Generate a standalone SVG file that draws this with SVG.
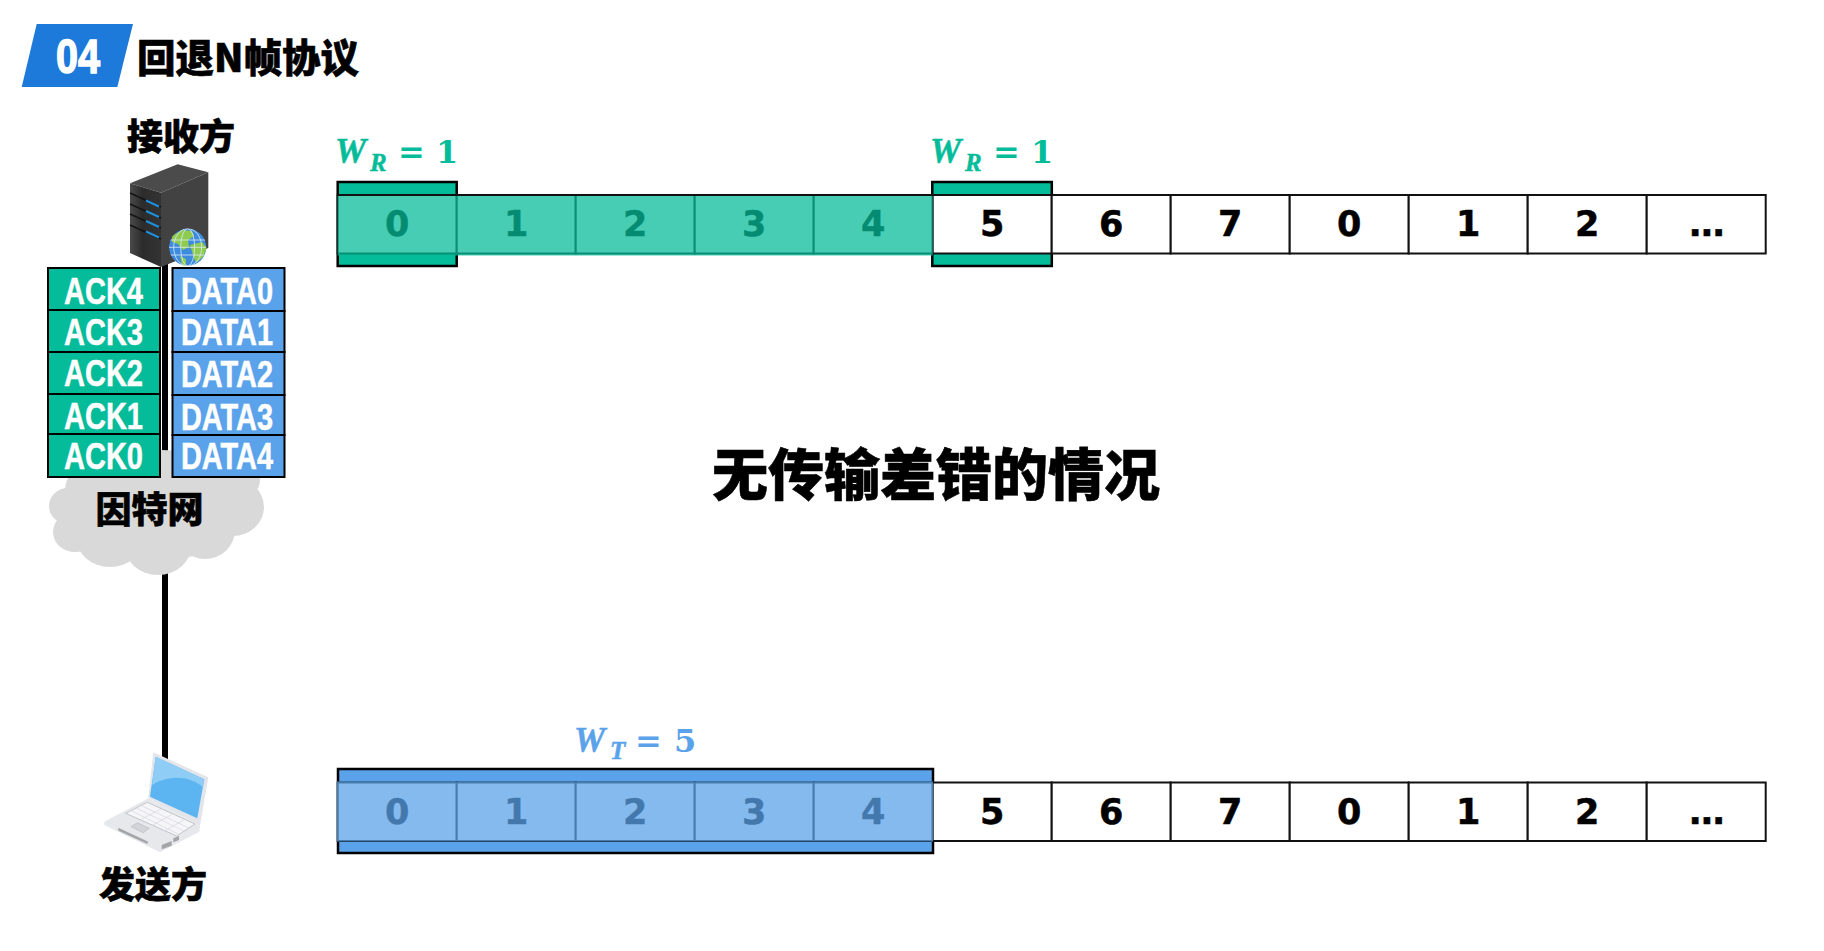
<svg xmlns="http://www.w3.org/2000/svg" width="1824" height="951" viewBox="0 0 1824 951">
<style>
text{font-family:"Liberation Sans","Noto Sans CJK SC",sans-serif}
.cjk{font-family:"Noto Sans CJK SC",sans-serif;font-weight:900;fill:#000;text-anchor:middle;stroke:#000;stroke-width:.6}
.cell{fill:#fff;stroke:#111;stroke-width:2}
.num{font-family:"DejaVu Sans",sans-serif;font-size:35px;font-weight:700;fill:#000;stroke:#000;stroke-width:.5;text-anchor:middle}
.ack{fill:#05BC9A;stroke:#000;stroke-width:2}
.data{fill:#5AA2EA;stroke:#000;stroke-width:2}
.pkt{font-size:36px;font-weight:700;fill:#fff;stroke:#fff;stroke-width:.5}
.win{stroke:#000;stroke-width:2.5}
.mv{font-family:"Liberation Serif",serif;font-weight:700;font-style:italic;stroke-width:.5}
.mn{font-family:"DejaVu Serif",serif;font-weight:700;font-size:32px}
.g{fill:#05BC9A;stroke:#05BC9A;stroke-width:0}
.b{fill:#5AA2EA;stroke:#5AA2EA;stroke-width:0}
.cloud{fill:#D9D9D9}
</style>
<defs>
<clipPath id="globeClip"><circle cx="187.7" cy="247.3" r="18.7"/></clipPath>
<linearGradient id="serverSide" x1="0" x2="1" y1="0" y2="0"><stop offset="0" stop-color="#4a4a4a"/><stop offset=".4" stop-color="#2c2c2c"/><stop offset="1" stop-color="#333"/></linearGradient>
<g id="row">
<rect class="cell" x="337.7" y="0" width="119" height="58.500"/><rect class="cell" x="456.7" y="0" width="119" height="58.500"/><rect class="cell" x="575.7" y="0" width="119" height="58.500"/><rect class="cell" x="694.7" y="0" width="119" height="58.500"/><rect class="cell" x="813.7" y="0" width="119" height="58.500"/><rect class="cell" x="932.7" y="0" width="119" height="58.500"/><rect class="cell" x="1051.7" y="0" width="119" height="58.500"/><rect class="cell" x="1170.7" y="0" width="119" height="58.500"/><rect class="cell" x="1289.7" y="0" width="119" height="58.500"/><rect class="cell" x="1408.7" y="0" width="119" height="58.500"/><rect class="cell" x="1527.7" y="0" width="119" height="58.500"/><rect class="cell" x="1646.7" y="0" width="119" height="58.500"/>
<text class="num" x="397.2" y="41">0</text><text class="num" x="516.2" y="41">1</text><text class="num" x="635.2" y="41">2</text><text class="num" x="754.2" y="41">3</text><text class="num" x="873.2" y="41">4</text><text class="num" x="992.2" y="41">5</text><text class="num" x="1111.2" y="41">6</text><text class="num" x="1230.2" y="41">7</text><text class="num" x="1349.2" y="41">0</text><text class="num" x="1468.2" y="41">1</text><text class="num" x="1587.2" y="41">2</text><text class="num" x="1706.2" y="41" letter-spacing="-1.500">...</text>
</g>
</defs>

<g id="heading">
<polygon points="21.7,87 36.7,24 133,24 117.3,87" fill="#1D7ADB"/>
<text x="56" y="73" font-size="49" font-weight="700" fill="#fff" stroke="#fff" stroke-width="1.500" textLength="44" lengthAdjust="spacingAndGlyphs">04</text>
<text class="cjk" x="248" y="72" font-size="38.500">回退N帧协议</text>
</g>

<g id="connectors">
<line x1="165" y1="262" x2="165" y2="765" stroke="#000" stroke-width="6"/>
</g>

<g id="internet">
<g class="cloud">
<ellipse cx="160" cy="505" rx="90" ry="55"/>
<ellipse cx="90" cy="490" rx="25" ry="25"/>
<ellipse cx="68" cy="506" rx="19" ry="18"/>
<ellipse cx="75" cy="532" rx="22" ry="20"/>
<ellipse cx="110" cy="537" rx="34" ry="30"/>
<ellipse cx="158" cy="544" rx="34" ry="31"/>
<ellipse cx="205" cy="530" rx="30" ry="29"/>
<ellipse cx="233" cy="507" rx="31" ry="29"/>
<ellipse cx="237" cy="480" rx="23" ry="20"/>
</g>
<text class="cjk" x="149.500" y="523" font-size="36">因特网</text>
</g>

<g id="receiver">
<text class="cjk" x="181" y="150" font-size="36">接收方</text>
<polygon points="130,183.300 177.700,164.300 208.300,172.300 161,192.700" fill="#4b4b4b"/>
<polygon points="130,183.300 161,192.700 161,267 130,253" fill="url(#serverSide)"/>
<polygon points="161,192.700 208.300,172.300 208.300,248 161,267" fill="#424242"/>
<g stroke="#151515" stroke-width="1.500">
<line x1="130" y1="193" x2="161" y2="207"/><line x1="130" y1="204" x2="161" y2="218"/><line x1="130" y1="214" x2="161" y2="228"/><line x1="130" y1="225" x2="161" y2="239"/>
</g>
<g stroke="#1E90DC" stroke-width="2">
<line x1="146" y1="200.500" x2="159" y2="206.500"/><line x1="146" y1="211" x2="159" y2="217"/><line x1="146" y1="221" x2="159" y2="227"/><line x1="146" y1="231.500" x2="159" y2="237.500"/>
</g>
<g clip-path="url(#globeClip)">
<circle cx="187.700" cy="247.300" r="18.700" fill="#3D8BDD"/>
<path d="M172 236l10-6 10 1 2 5-6 4 1 7-6 3-5-6-6-2z" fill="#8FCB4E"/>
<path d="M190 245l12-3 5 6-4 9-7 6-3-8z" fill="#8FCB4E"/>
<path d="M180 256l6 3 0 8-4-2z" fill="#8FCB4E"/>
<g fill="none" stroke="#DCEBFA" stroke-width=".8">
<ellipse cx="187.700" cy="247.300" rx="7" ry="18.700"/><ellipse cx="187.700" cy="247.300" rx="14" ry="18.700"/>
<line x1="169" y1="240" x2="206" y2="240"/><line x1="169" y1="247.300" x2="206" y2="247.300"/><line x1="169" y1="255" x2="206" y2="255"/>
</g>
</g>
</g>

<g id="ack-frames">
<rect class="ack" x="48" y="268" width="112" height="42"/><rect class="ack" x="48" y="310" width="112" height="42"/><rect class="ack" x="48" y="352" width="112" height="42"/><rect class="ack" x="48" y="394" width="112" height="40"/><rect class="ack" x="48" y="434" width="112" height="43"/>
<text class="pkt" x="64" y="304" textLength="79" lengthAdjust="spacingAndGlyphs">ACK4</text>
<text class="pkt" x="64" y="345" textLength="79" lengthAdjust="spacingAndGlyphs">ACK3</text>
<text class="pkt" x="64" y="386" textLength="79" lengthAdjust="spacingAndGlyphs">ACK2</text>
<text class="pkt" x="64" y="429" textLength="79" lengthAdjust="spacingAndGlyphs">ACK1</text>
<text class="pkt" x="64" y="469" textLength="79" lengthAdjust="spacingAndGlyphs">ACK0</text>
</g>

<g id="data-frames">
<rect class="data" x="172.500" y="268" width="112" height="43"/><rect class="data" x="172.500" y="311" width="112" height="41"/><rect class="data" x="172.500" y="352" width="112" height="43"/><rect class="data" x="172.500" y="395" width="112" height="40"/><rect class="data" x="172.500" y="435" width="112" height="42"/>
<text class="pkt" x="181" y="304" textLength="92" lengthAdjust="spacingAndGlyphs">DATA0</text>
<text class="pkt" x="181" y="345" textLength="92" lengthAdjust="spacingAndGlyphs">DATA1</text>
<text class="pkt" x="181" y="387" textLength="92" lengthAdjust="spacingAndGlyphs">DATA2</text>
<text class="pkt" x="181" y="430" textLength="92" lengthAdjust="spacingAndGlyphs">DATA3</text>
<text class="pkt" x="181" y="469" textLength="92" lengthAdjust="spacingAndGlyphs">DATA4</text>
</g>

<g id="sender">
<polygon points="153.300,752.300 208.300,777.300 200,826 148.300,798.300" fill="#E3E5EA"/>
<polygon points="155.700,756.700 204.300,779.300 197.300,818.300 150,796.700" fill="#5CB5F0"/>
<path d="M155.700 756.700L204.300 779.300 203 787C190 776 170 774 152 785z" fill="#8FCDF6"/>
<polygon points="104.300,821.700 148.300,798.300 200,826 199.300,831.700 160,852.300 104.300,825" fill="#E6E8EC"/>
<polygon points="125.700,813.300 147.300,802.300 195,824 176.700,836" fill="#F6F6F8" stroke="#B5B7BC" stroke-width=".8"/>
<g stroke="#D5D7DB" stroke-width=".7">
<line x1="131" y1="810.500" x2="179" y2="834.500"/><line x1="136" y1="808" x2="184" y2="831"/><line x1="141" y1="805.500" x2="189" y2="828"/>
<line x1="140" y1="820" x2="161" y2="809"/><line x1="152" y1="825.500" x2="172" y2="814.500"/><line x1="164" y1="831" x2="184" y2="820"/>
</g>
<polygon points="131,826.700 137.300,822.700 149.300,828.300 143.300,832.700" fill="#D2D4D9" stroke="#B5B7BC" stroke-width=".6"/>
<polygon points="118.300,827.700 148.300,841.700 147.300,844 118.300,830.700" fill="#A3A5A9"/>
<polygon points="161.700,845 171.700,841 171.700,845.700 161.700,849.300" fill="#A3A5A9"/>
<polygon points="173.300,838.300 179,836 179,840 173.300,842.300" fill="#A3A5A9"/>
<text class="cjk" x="153" y="898" font-size="36">发送方</text>
</g>

<text id="caption" class="cjk" x="936" y="495" font-size="56" stroke-width="1">无传输差错的情况</text>

<g id="receive-window">
<rect fill="#05BC9A" class="win" x="337.700" y="182" width="119" height="84"/>
<rect fill="#05BC9A" class="win" x="932.300" y="182" width="119.500" height="84"/>
<use href="#row" y="195"/>
<rect x="337.700" y="196" width="595" height="59.500" fill="#05BC9A" fill-opacity=".74"/>
<g class="g">
<text class="mv" x="335" y="163" font-size="35">W</text><text class="mv" x="370" y="171" font-size="25">R</text><text class="mn" x="398" y="163">=</text><text class="mn" x="436" y="163">1</text>
<text class="mv" x="930" y="163" font-size="35">W</text><text class="mv" x="965" y="171" font-size="25">R</text><text class="mn" x="993" y="163">=</text><text class="mn" x="1031" y="163">1</text>
</g>
</g>

<g id="send-window">
<rect fill="#5AA2EA" class="win" x="338" y="769" width="595" height="84"/>
<use href="#row" y="782.500"/>
<rect x="337" y="781.500" width="596" height="60" fill="#5AA2EA" fill-opacity=".74"/>
<g class="b">
<text class="mv" x="574" y="752" font-size="35">W</text><text class="mv" x="610" y="759" font-size="25">T</text><text class="mn" x="635" y="752">=</text><text class="mn" x="674" y="752">5</text>
</g>
</g>
</svg>
